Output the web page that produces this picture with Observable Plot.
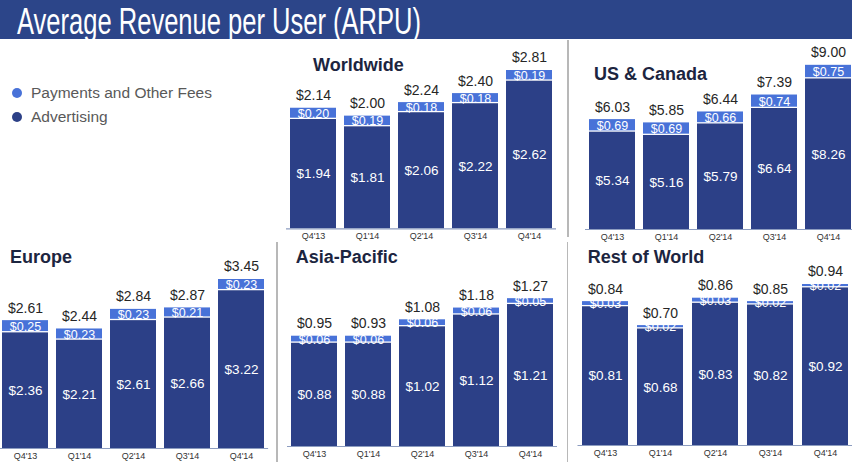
<!DOCTYPE html>
<html>
<head>
<meta charset="utf-8">
<script src="https://cdn.jsdelivr.net/npm/d3@7"></script>
<script src="https://cdn.jsdelivr.net/npm/@observablehq/plot@0.6"></script>
<style>
  html, body { margin: 0; padding: 0; background: #fff; overflow: hidden; }
  #wrap { position: relative; width: 852px; height: 466px; font-family: "Liberation Sans", Arial, Helvetica, sans-serif; }
  #banner { position: absolute; left: 0; top: 0; overflow: visible; }
  .ptitle { position: absolute; font-size: 18px; line-height: 18px; font-weight: bold; color: #1c2540; white-space: nowrap; }
  .leg { position: absolute; left: 31px; font-size: 15.5px; line-height: 16px; color: #595959; white-space: nowrap; }
  .dot { position: absolute; left: 12.3px; width: 10px; height: 10px; border-radius: 50%; }
  .divider { position: absolute; width: 1.5px; background: #b8b8b8; }
</style>
</head>
<body>
<div id="wrap">
  <svg id="banner" width="852" height="43" viewBox="0 0 852 43">
    <rect x="0" y="0" width="852" height="39" fill="#2c4589"></rect>
    <text x="17" y="33.7" font-size="37" fill="#fff" textLength="404" lengthAdjust="spacingAndGlyphs"
          font-family="Liberation Sans, Arial, Helvetica, sans-serif">Average Revenue per User (ARPU)</text>
  </svg>
</div>
<script>
// ---------- data ----------
const quarters = ["Q4'13", "Q1'14", "Q2'14", "Q3'14", "Q4'14"];
const seriesNames = ["Payments and Other Fees", "Advertising"];
const seriesColors = ["#4872d8", "#2c4087"];

const worldwideTotal = [2.14, 2.00, 2.24, 2.40, 2.81];
const worldwidePay   = [0.20, 0.19, 0.18, 0.18, 0.19];
const worldwideAds   = [1.94, 1.81, 2.06, 2.22, 2.62];

const usCanadaTotal = [6.03, 5.85, 6.44, 7.39, 9.00];
const usCanadaPay   = [0.69, 0.69, 0.66, 0.74, 0.75];
const usCanadaAds   = [5.34, 5.16, 5.79, 6.64, 8.26];

const europeTotal = [2.61, 2.44, 2.84, 2.87, 3.45];
const europePay   = [0.25, 0.23, 0.23, 0.21, 0.23];
const europeAds   = [2.36, 2.21, 2.61, 2.66, 3.22];

const asiaPacificTotal = [0.95, 0.93, 1.08, 1.18, 1.27];
const asiaPacificPay   = [0.06, 0.06, 0.06, 0.06, 0.05];
const asiaPacificAds   = [0.88, 0.88, 1.02, 1.12, 1.21];

const restOfWorldTotal = [0.84, 0.70, 0.86, 0.85, 0.94];
const restOfWorldPay   = [0.03, 0.02, 0.03, 0.02, 0.02];
const restOfWorldAds   = [0.81, 0.68, 0.83, 0.82, 0.92];

// ---------- layout (page pixels) ----------
const panels = [
  {name: "Worldwide",    total: worldwideTotal,   pay: worldwidePay,   ads: worldwideAds,   xr: [286, 556],     pad: 0.15,  base: 228.3, top: 70,  tx: 313,   tb: 70.7},
  {name: "US & Canada",  total: usCanadaTotal,    pay: usCanadaPay,    ads: usCanadaAds,    xr: [585, 855],     pad: 0.15,  base: 229,   top: 65,  tx: 594,   tb: 80},
  {name: "Europe",       total: europeTotal,      pay: europePay,      ads: europeAds,      xr: [-3.1, 268.1],  pad: 0.152, base: 448,   top: 279, tx: 10,    tb: 262.7},
  {name: "Asia-Pacific", total: asiaPacificTotal, pay: asiaPacificPay, ads: asiaPacificAds, xr: [287, 557],     pad: 0.15,  base: 446,   top: 297, tx: 295.7, tb: 262.7},
  {name: "Rest of World",total: restOfWorldTotal, pay: restOfWorldPay, ads: restOfWorldAds, xr: [577.5, 852.5], pad: 0.164, base: 445,   top: 284, tx: 587.7, tb: 262.7}
];

const wrap = document.getElementById("wrap");
const fmt = v => "$" + v.toFixed(2);
const FONT = '"Liberation Sans", Arial, Helvetica, sans-serif';

function makePanel(p) {
  const rows = quarters.map((q, i) => ({q, total: p.total[i], pay: p.pay[i], ads: p.ads[i]}));
  const W = 852, H = 466;
  const svg = Plot.plot({
    width: W, height: H,
    marginLeft: Math.max(0, p.xr[0]),
    marginRight: Math.max(0, W - p.xr[1]),
    marginTop: p.top,
    marginBottom: H - p.base,
    x: {domain: quarters, range: p.xr, paddingInner: p.pad, paddingOuter: p.pad / 2, align: 0.5,
        tickSize: 0, tickPadding: 4, label: null},
    y: {domain: [0, d3.max(p.total)], range: [p.base, p.top], axis: null},
    style: {background: "transparent", fontFamily: FONT, fontSize: "9px", color: "#333", overflow: "visible"},
    marks: [
      Plot.barY(rows, {x: "q", y1: 0, y2: "ads", fill: seriesColors[1]}),
      Plot.barY(rows, {x: "q", y1: "ads", y2: d => d.ads + d.pay, fill: seriesColors[0], insetBottom: 1.3}),
      Plot.ruleY([0], {stroke: "#8d9dc0", strokeWidth: 1.2}),
      Plot.text(rows, {x: "q", y: d => d.ads / 2, text: d => fmt(d.ads), fill: "white", fontSize: 13.5, lineAnchor: "middle"}),
      Plot.text(rows, {x: "q", y: d => d.ads + d.pay / 2, text: d => fmt(d.pay), fill: "white", fontSize: 12.5, lineAnchor: "middle"}),
      Plot.text(rows, {x: "q", y: d => d.ads + d.pay, text: d => fmt(d.total), fill: "#262626", fontSize: 14, lineAnchor: "middle", dy: -12.5})
    ]
  });
  svg.style.position = "absolute";
  svg.style.left = "0px";
  svg.style.top = "0px";
  svg.style.maxWidth = "none";
  wrap.appendChild(svg);

  const t = document.createElement("div");
  t.className = "ptitle";
  t.textContent = p.name;
  t.style.left = p.tx + "px";
  t.style.top = (p.tb - 15.2) + "px";
  wrap.appendChild(t);
}

panels.forEach(makePanel);

// legend
const legTops = [84.9, 108.9];
seriesNames.forEach((s, i) => {
  const d = document.createElement("div");
  d.className = "dot";
  d.style.background = seriesColors[i];
  d.style.top = (legTops[i] + 7.8 - 5) + "px";
  wrap.appendChild(d);
  const l = document.createElement("div");
  l.className = "leg";
  l.style.top = legTops[i] + "px";
  l.textContent = s;
  wrap.appendChild(l);
});

// dividers
[[567, 40, 197], [276, 242, 220], [566.5, 242, 220]].forEach(([x, y, h]) => {
  const d = document.createElement("div");
  d.className = "divider";
  d.style.left = x + "px"; d.style.top = y + "px"; d.style.height = h + "px";
  wrap.appendChild(d);
});
</script>
</body>
</html>
